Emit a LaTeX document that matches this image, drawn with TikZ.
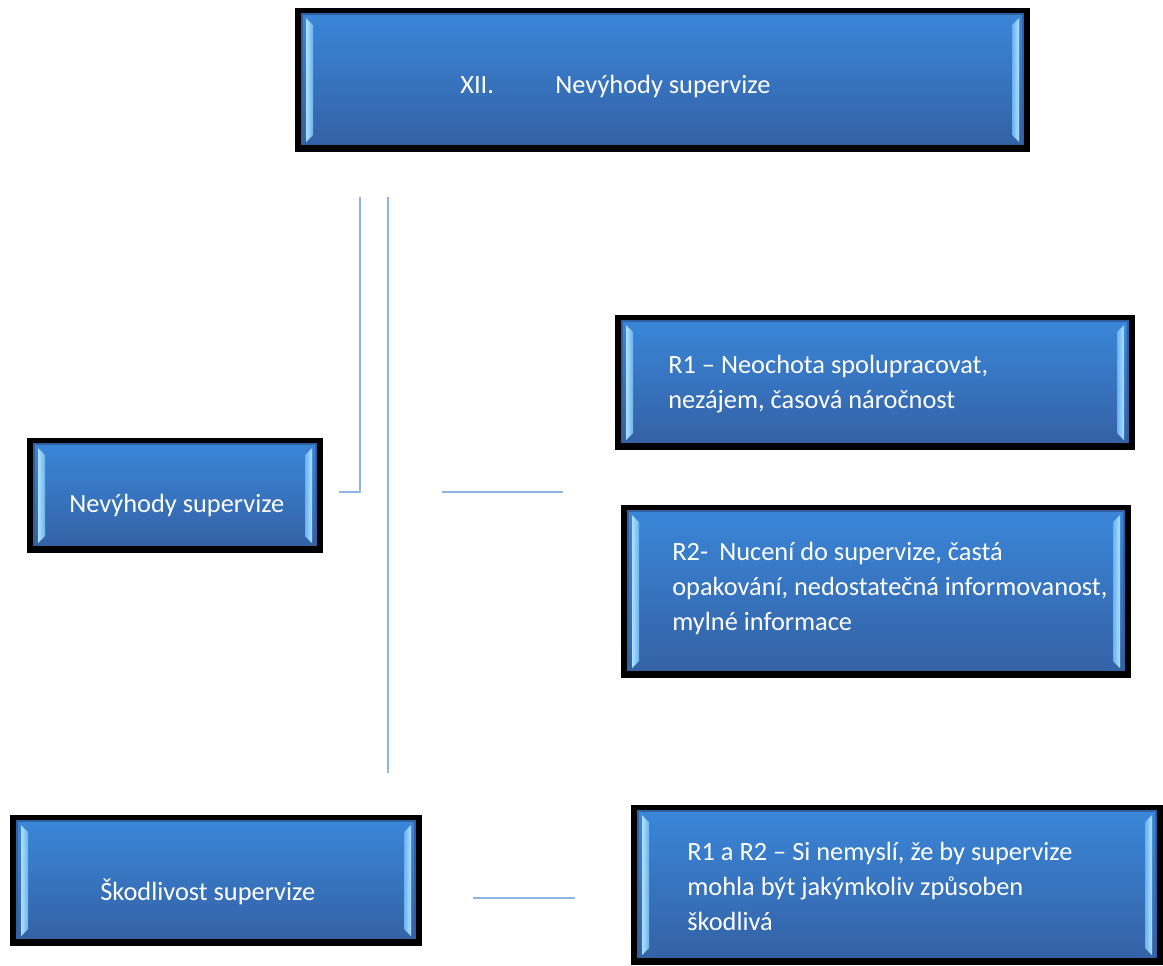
\documentclass[tikz,border=0pt]{standalone}
\usepackage{fontspec}
\setmainfont{Carlito}
\usetikzlibrary{calc,fit,positioning}
\definecolor{paneltop}{HTML}{3A86D8}
\definecolor{panelbot}{HTML}{3462A6}
\definecolor{paneledge}{HTML}{30609E}
\definecolor{bevellight}{HTML}{B0E0FF}
\definecolor{beveldark}{HTML}{6AB2EE}
\definecolor{linkblue}{HTML}{8DB4E2}
\tikzset{
	panel/.style={fill=black, inner sep=0pt, path picture={
		\coordinate (pnw) at (path picture bounding box.north west);
		\coordinate (pse) at (path picture bounding box.south east);
		\coordinate (pne) at (pse |- pnw);
		\coordinate (psw) at (pnw |- pse);
		\fill[paneledge] ($(pnw)+(6,5)$) rectangle ($(pse)+(-6,-7)$);
		\shade[top color=paneltop, bottom color=panelbot] ($(pnw)+(8,7)$) rectangle ($(pse)+(-8,-9)$);
		\shade[left color=bevellight, right color=beveldark] ($(pnw)+(11,10)$) -- ($(pnw)+(18,17)$) -- ($(psw)+(18,-17)$) -- ($(psw)+(11,-10)$) -- cycle;
		\shade[left color=beveldark, right color=bevellight] ($(pne)+(-11,10)$) -- ($(pne)+(-18,17)$) -- ($(pse)+(-18,-17)$) -- ($(pse)+(-11,-10)$) -- cycle;
	}},
	paneltext/.style={text=white, font=\fontsize{15}{19.9}\selectfont, align=left, inner sep=0pt, anchor=base west},
	link/.style={draw=linkblue, line width=1.2pt},
}

\begin{document}
\begin{tikzpicture}[x=0.02cm, y=-0.02cm]
		%%%%% START %%%%%
		\useasboundingbox (0, 0) rectangle (1163, 965);
		
		\node[panel, fit={(295, 8) (1030, 152)}] (title) {};
		\node[paneltext] (titletext) at (460, 93) {XII.\hspace{35pt}Nevýhody supervize};
		
		\node[panel, fit={(27, 438) (323, 553)}] (nevyhody) {};
		\node[paneltext] (nevyhodytext) at (69, 512) {Nevýhody supervize};
		
		\node[panel, fit={(10, 815) (422, 946)}] (skodlivost) {};
		\node[paneltext] (skodlivosttext) at (100, 900) {Škodlivost supervize};
		
		% multi-line texts sit on the baseline of their last line
		\node[panel, fit={(615, 315) (1135, 450)}] (rone) {};
		\node[paneltext] (ronetext) at (668, 408) {R1 – Neochota spolupracovat,\\nezájem, časová náročnost};
		
		\node[panel, fit={(621, 505) (1131, 678)}] (rtwo) {};
		\node[paneltext] (rtwotext) at (672, 630) {R2-\hspace{3pt} Nucení do supervize, častá\\opakování, nedostatečná informovanost,\\mylné informace};
		
		\node[panel, fit={(631, 805) (1163, 965)}] (rboth) {};
		\node[paneltext] (rbothtext) at (687, 930) {R1 a R2 – Si nemyslí, že by supervize\\mohla být jakýmkoliv způsoben\\škodlivá};
		
		% connectors
		\coordinate (bracetop) at (360, 197);
		\coordinate (bracecorner) at (360, 492);
		\coordinate (braceend) at (339, 492);
		\coordinate (stemtop) at (388, 197);
		\coordinate (stembottom) at (388, 773);
		\coordinate (oneleft) at (442, 492);
		\coordinate (oneright) at (563, 492);
		\coordinate (twoleft) at (473, 898);
		\coordinate (tworight) at (575, 898);
		
		\draw[link] (bracetop) -- (bracecorner) -- (braceend);
		\draw[link] (stemtop) -- (stembottom);
		\draw[link] (oneleft) -- (oneright);
		\draw[link] (twoleft) -- (tworight);
		
		%%%%% END %%%%%
\end{tikzpicture}
\end{document}
